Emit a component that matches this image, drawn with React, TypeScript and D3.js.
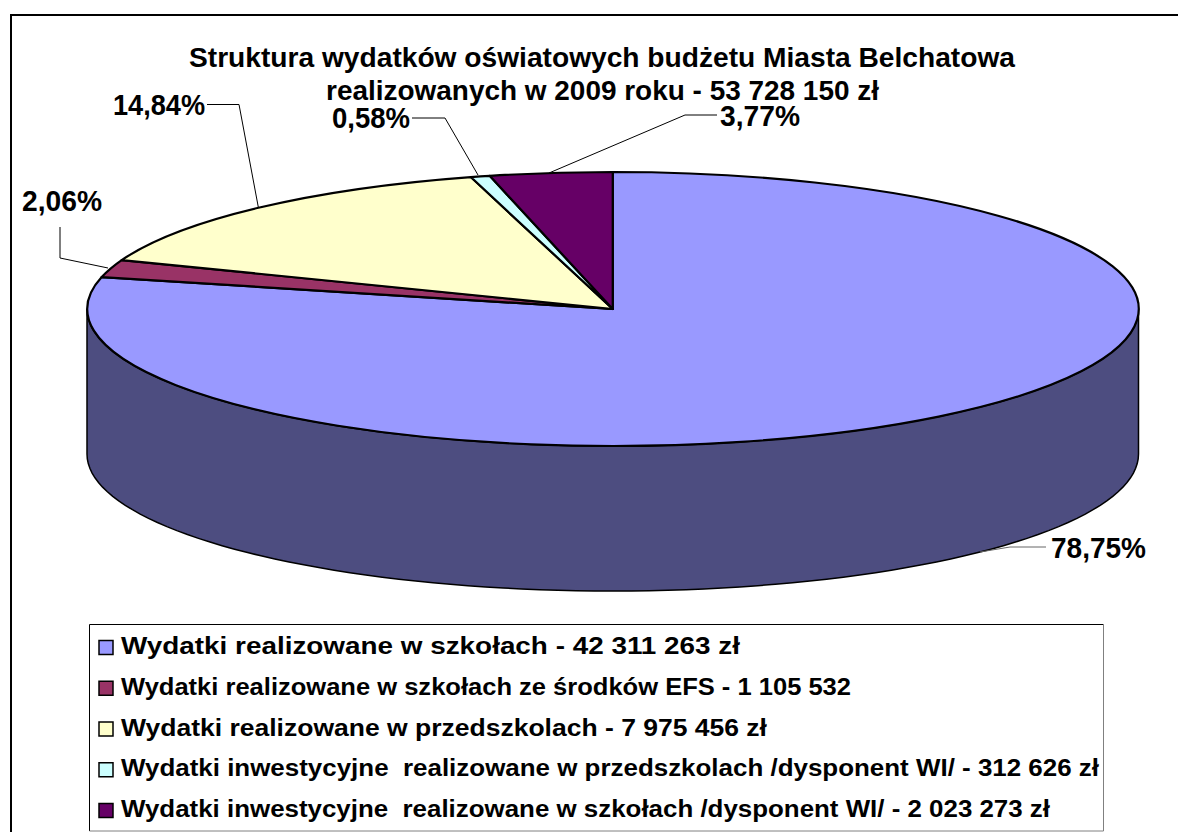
import React from "react";
import * as d3 from "d3";

const categories = [
  "Wydatki realizowane w szkołach - 42 311 263 zł",
  "Wydatki realizowane w szkołach ze środków EFS - 1 105 532",
  "Wydatki realizowane w przedszkolach - 7 975 456 zł",
  "Wydatki inwestycyjne  realizowane w przedszkolach /dysponent WI/ - 312 626 zł",
  "Wydatki inwestycyjne  realizowane w szkołach /dysponent WI/ - 2 023 273 zł",
];
const values = [42311263, 1105532, 7975456, 312626, 2023273];
const percentLabels = ["78,75%", "2,06%", "14,84%", "0,58%", "3,77%"];
const colors = ["#9999FF", "#993366", "#FFFFCC", "#CCFFFF", "#660066"];
const titleLines = [
  "Struktura wydatków oświatowych budżetu Miasta Belchatowa",
  "realizowanych w 2009 roku - 53 728 150 zł",
];

const W = 1178, H = 832;
const cx = 612.75, cy = 309, rx = 525.75, ry = 137, depth = 145;
const FONT = "'Liberation Sans', Arial, sans-serif";

// layout of each percentage label: text box and leader elbow
const labelLayout = [
  { x: 1051, w: 95, base: 558, elbow: [[1046, 547], [1010, 547]], anchor: [980, 552] },
  { x: 22, w: 80, base: 211, elbow: [[60, 227], [60, 258]], anchor: [108, 268] },
  { x: 113, w: 92, base: 115, elbow: [[207, 104.5], [239, 104.5]], anchor: null },
  { x: 332, w: 78, base: 128, elbow: [[412, 118], [445, 118]], anchor: [478, 175] },
  { x: 720, w: 80, base: 126, elbow: [[717, 115], [685, 115]], anchor: [549, 173] },
];
const legendTextWidths = [619, 730, 646, 978, 929];

export default function App() {
  const pie = d3.pie<number>().sort(null);
  const arcs = pie(values);
  const unitArc = d3.arc<d3.PieArcDatum<number>>().innerRadius(0).outerRadius(1);
  const sx = d3.scaleLinear().domain([-1, 1]).range([cx - rx, cx + rx]);
  const sy = d3.scaleLinear().domain([-1, 1]).range([cy - ry, cy + ry]);

  const rimAngles = d3.range(0, 181, 2).map((d) => (d * Math.PI) / 180);
  const rimTop = rimAngles.map((a) => [sx(Math.cos(a)), sy(Math.sin(a))] as [number, number]);
  const rimBottom = rimTop.map(([x, y]) => [x, y + depth] as [number, number]).reverse();
  const sidePath = d3.line()([...rimTop, ...rimBottom]) + "Z";

  const legendY = d3.scalePoint<number>().domain(d3.range(5)).range([654, 817]);

  return (
    <svg
      width={W}
      height={H}
      viewBox={`0 0 ${W} ${H}`}
      style={{ position: "absolute", left: 0, top: 0, background: "#fff", fontFamily: FONT }}
    >
      <path d={`M11,${H}V15H${W}`} fill="none" stroke="#000" strokeWidth={2} />

      <path d={sidePath} fill="#4D4D80" stroke="#000" strokeWidth={1.5} />

      <g transform={`translate(${cx},${cy}) scale(${rx},${ry})`}>
        {arcs.map((a, i) => (
          <path
            key={i}
            d={unitArc(a) || ""}
            fill={colors[i]}
            stroke="#000"
            strokeWidth={2.2}
            strokeLinejoin="round"
            vectorEffect="non-scaling-stroke"
          />
        ))}
      </g>

      {titleLines.map((t, i) => (
        <text
          key={i}
          x={i === 0 ? 189 : 326}
          y={i === 0 ? 67 : 100}
          fontSize={27}
          fontWeight="bold"
          fill="#000"
          textLength={i === 0 ? 826 : 553}
          lengthAdjust="spacingAndGlyphs"
        >
          {t}
        </text>
      ))}

      {arcs.map((a, i) => {
        const l = labelLayout[i];
        const mid = (a.startAngle + a.endAngle) / 2;
        const end = l.anchor ?? [sx(Math.sin(mid)), sy(-Math.cos(mid))];
        const pts = [...l.elbow, end] as [number, number][];
        return (
          <g key={i}>
            <path d={d3.line()(pts) || ""} fill="none" stroke={i === 0 ? "#666" : "#000"} strokeWidth={1} />
            <text
              x={l.x}
              y={l.base}
              fontSize={30}
              fontWeight="bold"
              fill="#000"
              textLength={l.w}
              lengthAdjust="spacingAndGlyphs"
            >
              {percentLabels[i]}
            </text>
          </g>
        );
      })}

      <rect x={89.5} y={624.5} width={1014} height={206} fill="#fff" stroke="none" />
      <path d="M89.5,831V624.5H1103.5" fill="none" stroke="#000" strokeWidth={1} />
      <path d="M1103.5,624.5V831H89.5" fill="none" stroke="#808080" strokeWidth={1} />
      {categories.map((c, i) => {
        const y = legendY(i) as number;
        return (
          <g key={i}>
            <rect x={99} y={y - 13.5} width={14} height={14} fill={colors[i]} stroke="#000" strokeWidth={1.5} />
            <text
              x={121}
              y={y}
              fontSize={23.5}
              fontWeight="bold"
              fill="#000"
              textLength={legendTextWidths[i]}
              lengthAdjust="spacingAndGlyphs"
              style={{ whiteSpace: "pre" }}
            >
              {c}
            </text>
          </g>
        );
      })}
    </svg>
  );
}
